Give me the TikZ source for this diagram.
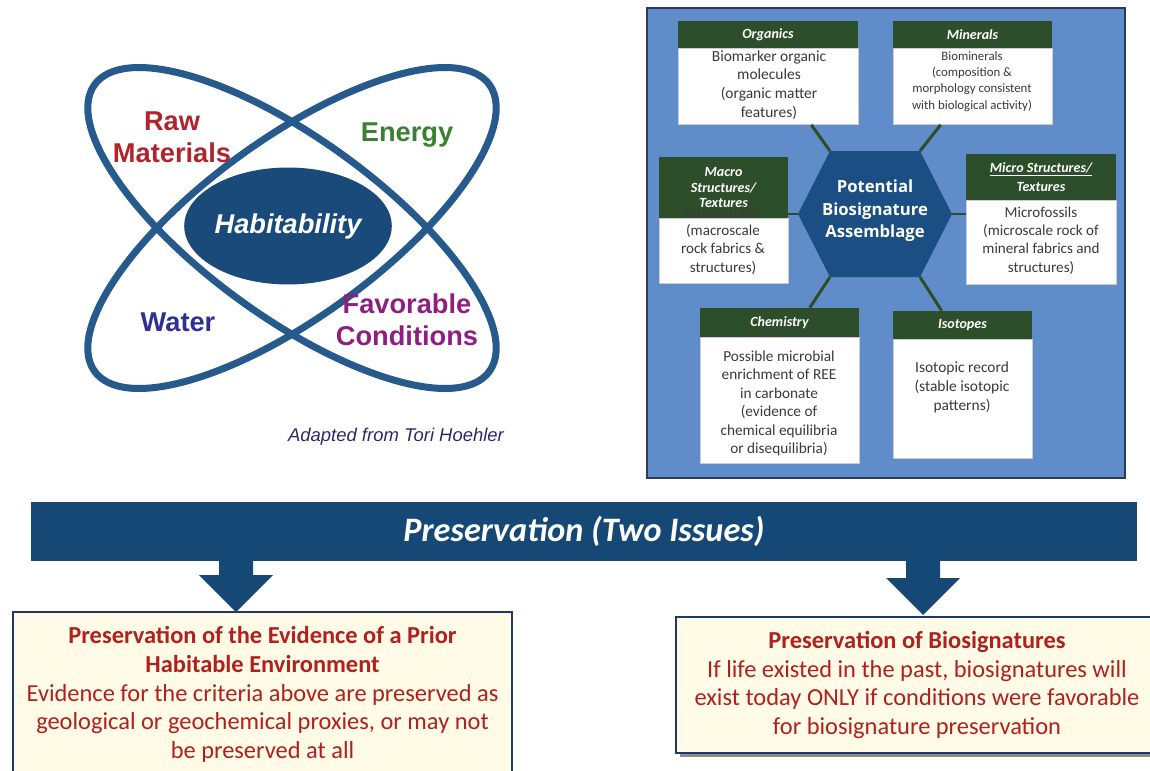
\documentclass[tikz,border=0pt]{standalone}
\usepackage{fontspec}
\setmainfont{Carlito}
\newfontfamily\arialfont{Liberation Sans}
\newfontfamily\hexfont{Open Sans}
\usetikzlibrary{positioning,shapes.geometric,calc}

\definecolor{ellblue}{HTML}{265A8C}
\definecolor{habblue}{HTML}{1A4A7A}
\definecolor{rawred}{HTML}{B0242C}
\definecolor{energygreen}{HTML}{3B8032}
\definecolor{waterblue}{HTML}{2E3092}
\definecolor{favpurple}{HTML}{8E1F7E}
\definecolor{creditnavy}{HTML}{2A2A6A}
\definecolor{panelblue}{HTML}{608CC9}
\definecolor{panelline}{HTML}{2E3B58}
\definecolor{hdrgreen}{HTML}{2D4E2A}
\definecolor{hexblue}{HTML}{1B4E82}
\definecolor{linkgreen}{HTML}{2E4D27}
\definecolor{txtgray}{HTML}{3A3A3A}
\definecolor{barblue}{HTML}{164876}
\definecolor{boxnavy}{HTML}{1F3864}
\definecolor{boxcream}{HTML}{FFFBE6}
\definecolor{issuered}{HTML}{B0201E}

\begin{document}
\begin{tikzpicture}[x=0.02cm, y=-0.02cm,
  ell/.style={draw=ellblue, line width=4pt},
  lbl/.style={font=\arialfont\bfseries\fontsize{15.5}{18}\selectfont, align=center},
  hdr/.style={fill=hdrgreen, text=white, inner sep=0pt, align=center, font=\bfseries\itshape\fontsize{8}{9}\selectfont},
  card/.style={fill=white, draw=gray!40, line width=0.3pt, inner sep=0pt},
  cardtxt/.style={text=txtgray, align=center, inner sep=0pt, font=\fontsize{8.8}{10.6}\selectfont},
  link/.style={draw=linkgreen, line width=1.7pt},
  issue/.style={draw=boxnavy, line width=1.2pt, fill=boxcream, inner sep=0pt, text=issuered, align=center, font=\fontsize{13.9}{16.4}\selectfont}]
\useasboundingbox (0,0) rectangle (1150,771);
\clip (0,0) rectangle (1150,771);

% habitability ellipses
\draw[ell, rotate around={-36:(292,228)}] (292,228) ellipse [x radius=4.88cm, y radius=1.78cm];
\draw[ell, rotate around={36:(292,228)}] (292,228) ellipse [x radius=4.88cm, y radius=1.78cm];
\node[ellipse, fill=habblue, minimum width=3.08cm, minimum height=2.34cm, inner sep=0pt, text=white,
  font=\arialfont\bfseries\itshape\fontsize{15.5}{18}\selectfont] (hab) at (288,226) {Habitability};
\node[lbl, text=rawred] (raw) at (172,137) {Raw\\Materials};
\node[lbl, text=energygreen] (energy) at (407,135) {Energy};
\node[lbl, text=waterblue] (water) at (178,322) {Water};
\node[lbl, text=favpurple] (fav) at (407,320) {Favorable\\Conditions};
\node[text=creditnavy, font=\arialfont\itshape\fontsize{10.5}{12}\selectfont] (credit) at (396,437) {Adapted from Tori Hoehler};

% biosignature panel
\fill[panelblue, draw=panelline, line width=1pt] (647,8) rectangle (1125,478);
\node[hdr, minimum width=3.6cm, minimum height=0.54cm] (orghdr) at (768,34.5) {Organics};
\node[card, below=0pt of orghdr, minimum width=3.6cm, minimum height=1.52cm] (orgbox) {};
\node[cardtxt] (orgtxt) at (769,85) {Biomarker organic\\molecules\\(organic matter\\features)};

\node[hdr, minimum width=3.18cm, minimum height=0.54cm] (minhdr) at (972.5,34.5) {Minerals};
\node[card, below=0pt of minhdr, minimum width=3.18cm, minimum height=1.52cm] (minbox) {};
\node[cardtxt, font=\fontsize{7.3}{9.2}\selectfont] (mintxt) at (972,81.5) {Biominerals\\(composition \&\\morphology consistent\\with biological activity)};

\node[hdr, minimum width=2.58cm, minimum height=1.22cm, font=\bfseries\itshape\fontsize{8}{8.8}\selectfont] (machdr) at (723.5,187.5) {Macro\\Structures/\\Textures};
\node[card, below=0pt of machdr, minimum width=2.58cm, minimum height=1.3cm] (macbox) {};
\node[cardtxt, font=\fontsize{8.6}{10.4}\selectfont] (mactxt) at (723,240.5) {Stromatolite\\(macroscale\\rock fabrics \&\\structures)};

\node[hdr, minimum width=3.0cm, minimum height=0.92cm, font=\bfseries\itshape\fontsize{8}{10.6}\selectfont] (michdr) at (1041,177) {\underline{Micro Structures/}\\Textures};
\node[card, below=0pt of michdr, minimum width=3.0cm, minimum height=1.68cm] (micbox) {};
\node[cardtxt, font=\fontsize{8.6}{10.4}\selectfont] (mictxt) at (1041,240.5) {Microfossils\\(microscale rock of\\mineral fabrics and\\structures)};

\node[hdr, minimum width=3.18cm, minimum height=0.58cm] (chemhdr) at (779.5,322.5) {Chemistry};
\node[card, below=0pt of chemhdr, minimum width=3.18cm, minimum height=2.52cm] (chembox) {};
\node[cardtxt, font=\fontsize{8.7}{10.55}\selectfont] (chemtxt) at (779,403.5) {Possible microbial\\enrichment of REE\\in carbonate\\(evidence of\\chemical equilibria\\or disequilibria)};

\node[hdr, minimum width=2.78cm, minimum height=0.56cm] (isohdr) at (962.5,325) {Isotopes};
\node[card, below=0pt of isohdr, minimum width=2.78cm, minimum height=2.38cm] (isobox) {};
\node[cardtxt, font=\fontsize{8.8}{11}\selectfont] (isotxt) at (962,387.5) {Isotopic record\\(stable isotopic\\patterns)};

% hexagon corners
\coordinate (hxW) at (798,214);
\coordinate (hxNW) at (830,151);
\coordinate (hxNE) at (920,151);
\coordinate (hxE) at (952,214);
\coordinate (hxSE) at (920,277);
\coordinate (hxSW) at (830,277);
\fill[hexblue] (hxW) -- (hxNW) -- (hxNE) -- (hxE) -- (hxSE) -- (hxSW) -- cycle;
\node[text=white, align=center, font=\hexfont\bfseries\fontsize{9.5}{12.8}\selectfont] (core) at (875,211) {Potential\\Biosignature\\Assemblage};

\draw[link] ($(orgbox.south west)!0.74!(orgbox.south east)$) -- (hxNW);
\draw[link] ($(minbox.south west)!0.30!(minbox.south east)$) -- (hxNE);
\draw[link] (hxW) -- (hxW -| machdr.east);
\draw[link] (hxE) -- (hxE -| micbox.west);
\draw[link] (hxSW) -- ($(chemhdr.north west)!0.69!(chemhdr.north east)$);
\draw[link] (hxSE) -- ($(isohdr.north west)!0.35!(isohdr.north east)$);

% preservation
\node[fill=barblue, minimum width=22.12cm, minimum height=1.18cm, inner sep=0pt, text=white,
  font=\bfseries\itshape\fontsize{19.5}{22}\selectfont] (pres) at (584,531.5) {Preservation (Two Issues)};
\coordinate (ltip) at (236,612);
\coordinate (rtip) at (923,615);
\foreach \t in {ltip,rtip}
  \fill[barblue] (\t) -- ++(-37,-37) -- ++(20,0) -- ++(0,-20) -- ++(34,0) -- ++(0,20) -- ++(20,0) -- cycle;
\fill[black!45] (680,621) rectangle (1160,757);
\node[issue, minimum width=9.98cm, minimum height=3.3cm] (lbox) at (262.5,694.5)
  {\bfseries Preservation of the Evidence of a Prior\\\bfseries Habitable Environment\\Evidence for the criteria above are preserved as\\geological or geochemical proxies, or may not\\be preserved at all};
\node[issue, minimum width=9.64cm, minimum height=2.72cm] (rbox) at (917,685)
  {\bfseries Preservation of Biosignatures\\If life existed in the past, biosignatures will\\exist today ONLY if conditions were favorable\\for biosignature preservation};
\end{tikzpicture}
\end{document}
